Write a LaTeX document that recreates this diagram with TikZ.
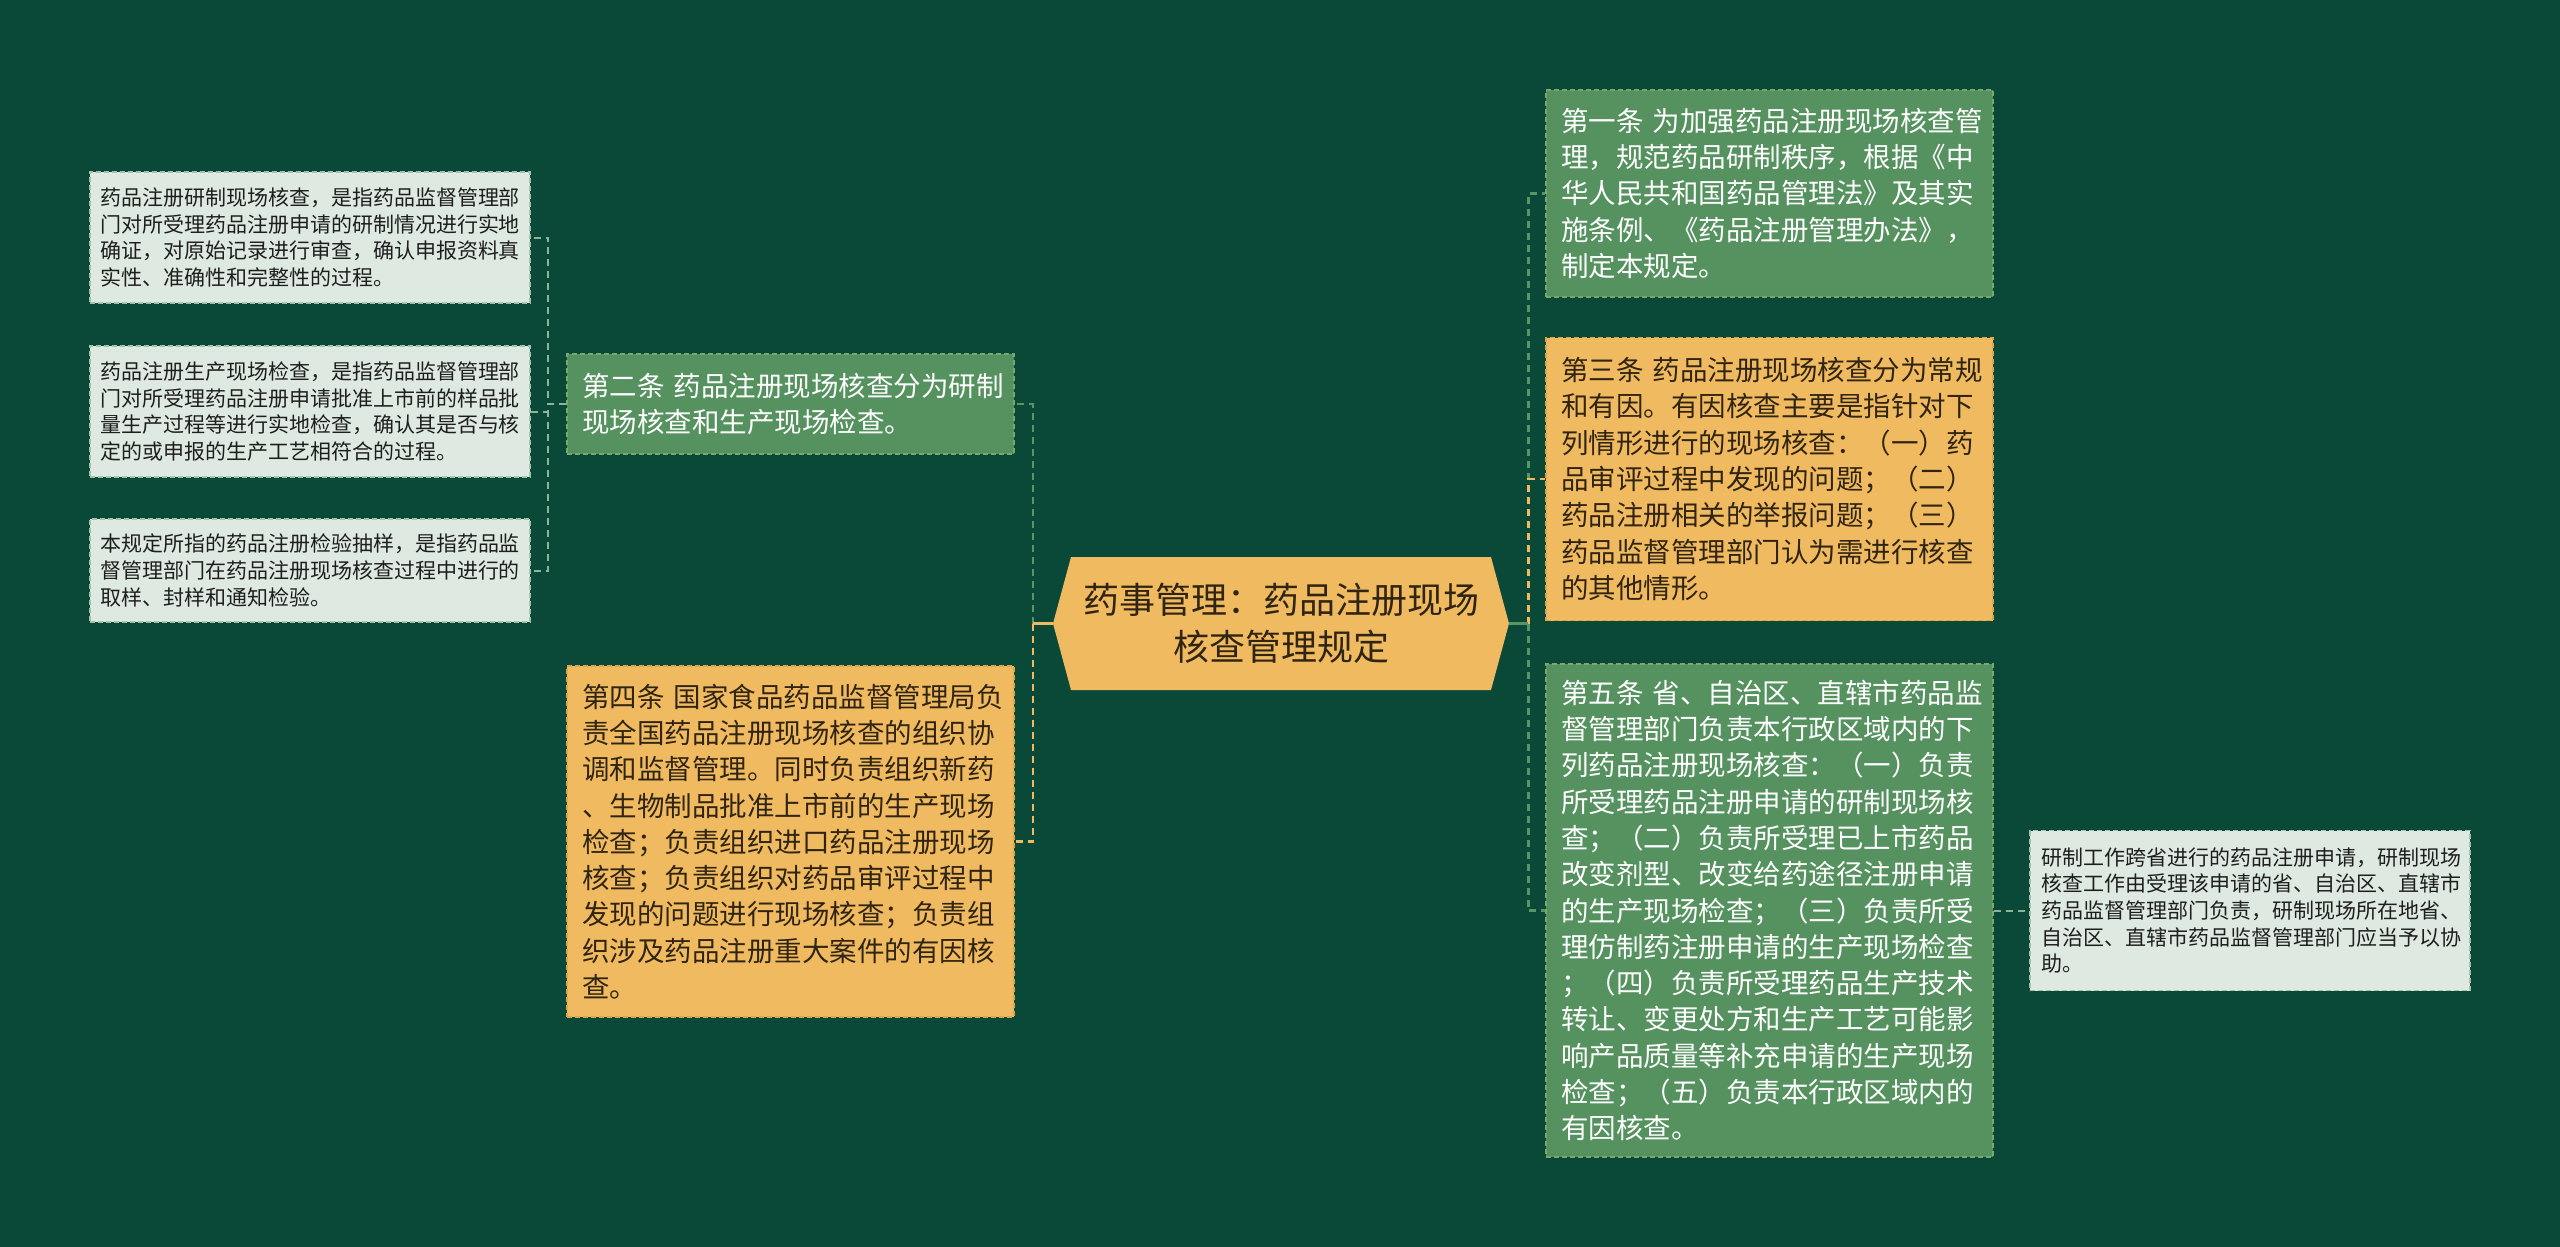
\documentclass[tikz,border=0pt]{standalone}
\usepackage{fontspec}
\setmainfont{Noto Sans CJK SC}
\definecolor{bg}{RGB}{10,73,56}
\definecolor{gbox}{RGB}{86,146,96}
\definecolor{gboxd}{RGB}{120,168,112}
\definecolor{obox}{RGB}{240,186,96}
\definecolor{oboxd}{RGB}{220,165,75}
\definecolor{lbox}{RGB}{222,234,225}
\definecolor{lboxd}{RGB}{165,192,172}
\definecolor{otext}{RGB}{48,36,18}
\definecolor{ltext}{RGB}{30,30,30}
\definecolor{gline}{RGB}{88,150,100}
\definecolor{yline}{RGB}{240,186,96}
\definecolor{lline}{RGB}{140,180,150}
\tikzset{
  boxbase/.style={rectangle, inner ysep=0pt, align=left, line width=1.5pt, dash pattern=on 5pt off 3pt},
  greenbox/.style={boxbase, fill=gbox, draw=gboxd, text=white, inner xsep=15pt, text width=417pt, minimum width=447pt, font=\fontsize{27.5}{36.3}\selectfont},
  orangebox/.style={boxbase, fill=obox, draw=oboxd, text=otext, inner xsep=15pt, text width=417pt, minimum width=447pt, font=\fontsize{27.5}{36.3}\selectfont},
  leafbox/.style={boxbase, fill=lbox, draw=lboxd, text=ltext, inner xsep=10pt, text width=420pt, minimum width=440pt, font=\fontsize{21}{26.7}\selectfont},
  centerbox/.style={rectangle, inner sep=0pt, align=center, text=otext, minimum width=456pt, minimum height=133pt, font=\fontsize{36}{47}\selectfont},
  conn/.style={line width=2.6pt, dash pattern=on 7pt off 5pt},
  gconn/.style={conn, draw=gline},
  yconn/.style={conn, draw=yline},
  lconn/.style={conn, draw=lline, line width=2pt},
  stub/.style={line width=2.6pt}
}
\begin{document}
\begin{tikzpicture}[x=1pt,y=-1pt]
\fill[bg] (0,0) rectangle (2560,1247);
\useasboundingbox (0,0) rectangle (2560,1247);

% center hexagon
\fill[obox] (1053,623.5) -- (1071,557) -- (1491,557) -- (1509,623.5) -- (1491,690) -- (1071,690) -- cycle;
\node[centerbox] (c) at (1281,623.5) {药事管理：药品注册现场\\核查管理规定};

% left branch
\node[greenbox, minimum height=100pt] (a2) at (790.5,404) {第二条~药品注册现场核查分为研制\\现场核查和生产现场检查。};
\node[orangebox, minimum height=351pt] (a4) at (790.5,841.5) {第四条~国家食品药品监督管理局负\\责全国药品注册现场核查的组织协\\调和监督管理。同时负责组织新药\\、生物制品批准上市前的生产现场\\检查；负责组织进口药品注册现场\\核查；负责组织对药品审评过程中\\发现的问题进行现场核查；负责组\\织涉及药品注册重大案件的有因核\\查。};

\node[leafbox, minimum height=131pt] (l1) at (310,237.5) {药品注册研制现场核查，是指药品监督管理部\\门对所受理药品注册申请的研制情况进行实地\\确证，对原始记录进行审查，确认申报资料真\\实性、准确性和完整性的过程。};
\node[leafbox, minimum height=131pt] (l2) at (310,411.5) {药品注册生产现场检查，是指药品监督管理部\\门对所受理药品注册申请批准上市前的样品批\\量生产过程等进行实地检查，确认其是否与核\\定的或申报的生产工艺相符合的过程。};
\node[leafbox, minimum height=103pt] (l3) at (310,570.5) {本规定所指的药品注册检验抽样，是指药品监\\督管理部门在药品注册现场核查过程中进行的\\取样、封样和通知检验。};

% right branch
\node[greenbox, minimum height=207pt] (a1) at (1769.5,193.5) {第一条~为加强药品注册现场核查管\\理，规范药品研制秩序，根据《中\\华人民共和国药品管理法》及其实\\施条例、《药品注册管理办法》，\\制定本规定。};
\node[orangebox, minimum height=283pt] (a3) at (1769.5,479) {第三条~药品注册现场核查分为常规\\和有因。有因核查主要是指针对下\\列情形进行的现场核查：（一）药\\品审评过程中发现的问题；（二）\\药品注册相关的举报问题；（三）\\药品监督管理部门认为需进行核查\\的其他情形。};
\node[greenbox, minimum height=493pt] (a5) at (1769.5,910.5) {第五条~省、自治区、直辖市药品监\\督管理部门负责本行政区域内的下\\列药品注册现场核查：（一）负责\\所受理药品注册申请的研制现场核\\查；（二）负责所受理已上市药品\\改变剂型、改变给药途径注册申请\\的生产现场检查；（三）负责所受\\理仿制药注册申请的生产现场检查\\；（四）负责所受理药品生产技术\\转让、变更处方和生产工艺可能影\\响产品质量等补充申请的生产现场\\检查；（五）负责本行政区域内的\\有因核查。};
\node[leafbox, minimum height=160pt, inner xsep=11pt, text width=418pt] (rl) at (2250,910.5) {研制工作跨省进行的药品注册申请，研制现场\\核查工作由受理该申请的省、自治区、直辖市\\药品监督管理部门负责，研制现场所在地省、\\自治区、直辖市药品监督管理部门应当予以协\\助。};

% connectors: center to left
\draw[gconn] ([xshift=-20pt]c.west) |- (a2.east);
\draw[yconn] ([xshift=-20pt]c.west) |- (a4.east);
\draw[stub, draw=yline] (c.west) -- ++(-20,0);

% connectors: center to right
\draw[gconn] ([xshift=19pt]c.east) |- (a1.west);
\draw[gconn] ([xshift=19pt]c.east) |- (a5.west);
\draw[yconn] ([xshift=19pt]c.east) |- (a3.west);
\draw[stub, draw=gline] (c.east) -- ++(19,0);

% connectors: a2 to leaves
\draw[lconn] (a2.west) -- ++(-18,0) |- (l1.east);
\draw[lconn] (a2.west) -- ++(-18,0) |- (l2.east);
\draw[lconn] (a2.west) -- ++(-18,0) |- (l3.east);

% a5 to right leaf
\draw[lconn] (a5.east) -- (rl.west);
\end{tikzpicture}
\end{document}
